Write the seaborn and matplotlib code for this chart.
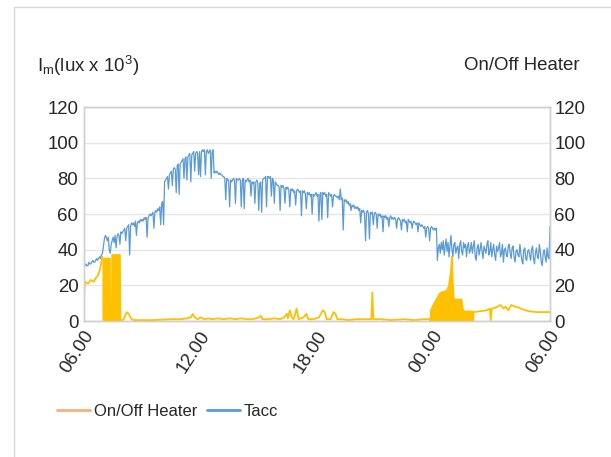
import numpy as np
import pandas as pd
import matplotlib
matplotlib.use("Agg")
import matplotlib.pyplot as plt
from matplotlib.lines import Line2D
from matplotlib.transforms import ScaledTranslation
import seaborn as sns

# ---- data -------------------------------------------------------------
# Tacc, hours after 06:00, sampled every 3 minutes (one row per hour)
tacc_hours = [i / 20 for i in range(481)]
tacc = [
    30, 31, 32, 31, 31, 33, 32, 32, 33, 34, 33, 33, 34, 35, 34, 35, 36, 35, 37, 38,
    42, 46, 48, 47, 45, 47, 40, 38, 43, 45, 47, 44, 48, 41, 47, 49, 48, 43, 50, 49,
    50, 51, 52, 45, 52, 53, 54, 37, 53, 55, 54, 55, 53, 56, 48, 55, 56, 55, 57, 56,
    57, 56, 58, 57, 58, 47, 58, 59, 60, 59, 60, 61, 52, 61, 62, 61, 63, 62, 64, 54,
    66, 67, 54, 78, 79, 80, 81, 74, 82, 83, 84, 76, 85, 86, 85, 72, 87, 88, 71, 88,
    89, 90, 91, 80, 91, 92, 79, 92, 93, 94, 78, 93, 94, 95, 84, 94, 95, 94, 82, 95,
    81, 95, 96, 95, 96, 82, 95, 96, 94, 95, 96, 80, 95, 96, 83, 84, 83, 84, 83, 82,
    83, 82, 82, 81, 81, 80, 68, 80, 79, 79, 64, 79, 78, 79, 80, 79, 66, 80, 79, 79,
    80, 79, 64, 79, 80, 63, 79, 78, 79, 80, 78, 79, 70, 78, 77, 78, 66, 78, 79, 78,
    62, 77, 78, 61, 79, 80, 80, 81, 64, 81, 81, 80, 81, 70, 80, 79, 66, 78, 77, 76,
    76, 75, 62, 76, 75, 76, 74, 66, 75, 74, 75, 73, 64, 74, 73, 74, 72, 73, 65, 73,
    74, 73, 72, 73, 59, 73, 72, 73, 71, 63, 72, 71, 72, 70, 71, 60, 71, 70, 71, 72,
    70, 71, 56, 71, 72, 57, 72, 71, 72, 70, 71, 58, 72, 71, 70, 71, 64, 70, 71, 70,
    70, 69, 70, 68, 74, 68, 69, 51, 68, 67, 68, 66, 67, 65, 66, 62, 65, 64, 65, 63,
    64, 63, 64, 62, 63, 55, 62, 61, 62, 60, 45, 61, 62, 60, 46, 61, 60, 61, 54, 60,
    61, 60, 52, 60, 59, 60, 58, 59, 50, 59, 58, 59, 57, 58, 53, 58, 59, 57, 58, 57,
    58, 57, 52, 57, 58, 57, 56, 51, 57, 56, 57, 55, 56, 50, 57, 56, 55, 56, 52, 55,
    56, 55, 54, 55, 50, 55, 54, 53, 54, 53, 52, 53, 47, 52, 53, 52, 45, 52, 53, 52,
    51, 52, 51, 52, 34, 41, 43, 38, 44, 40, 45, 37, 42, 46, 39, 44, 36, 42, 48, 40,
    36, 43, 44, 38, 41, 42, 35, 43, 45, 39, 37, 44, 41, 43, 36, 42, 44, 38, 40, 44,
    38, 42, 45, 36, 34, 41, 43, 37, 40, 44, 39, 35, 42, 40, 38, 43, 45, 37, 39, 44,
    36, 40, 43, 37, 34, 42, 39, 41, 44, 36, 38, 43, 33, 40, 41, 37, 36, 42, 43, 38,
    35, 41, 42, 36, 33, 39, 40, 37, 36, 43, 38, 34, 32, 40, 41, 35, 34, 39, 40, 37,
    34, 40, 42, 35, 32, 38, 41, 36, 35, 43, 39, 33, 31, 38, 40, 36, 33, 41, 36, 35,
    53,
]

heater_hours = [
    0.0, 0.05, 0.2, 0.35, 0.5, 0.6, 0.7, 0.8, 0.88, 0.93,
    0.95, 1.33, 1.35, 1.44, 1.45, 1.85, 1.87, 2.05, 2.2, 2.3,
    2.45, 2.6, 3.5, 4.5, 5.0, 5.3, 5.5, 5.6, 5.7, 5.85,
    6.0, 6.2, 6.4, 6.6, 6.9, 7.2, 7.5, 7.8, 8.1, 8.4,
    8.7, 9.0, 9.1, 9.2, 9.5, 9.8, 10.1, 10.3, 10.45, 10.5,
    10.6, 10.7, 10.8, 10.95, 11.05, 11.3, 11.45, 11.55, 11.8, 12.1,
    12.3, 12.4, 12.5, 12.7, 12.85, 12.95, 13.05, 13.3, 13.6, 14.0,
    14.8, 14.85, 14.9, 15.3, 15.8, 16.5, 17.0, 17.5, 17.8, 17.85,
    17.87, 18.0, 18.15, 18.3, 18.4, 18.7, 18.8, 18.9, 18.95, 19.0,
    19.05, 19.45, 19.5, 19.6, 19.8, 20.1, 20.4, 20.75, 20.9, 20.95,
    21.0, 21.2, 21.45, 21.6, 21.7, 21.85, 22.0, 22.2, 22.4, 22.6,
    22.9, 23.3, 23.7, 24.0,
]
heater = [
    15, 22, 21, 23, 22, 24, 25, 28, 32, 36,
    35, 35, 0, 0, 37, 37, 0, 1, 5, 4,
    1, 0.5, 0.5, 1, 1, 1.5, 2, 4, 2, 1,
    2, 1, 1.5, 1, 1.5, 1, 1.5, 1, 1.5, 1,
    1, 2, 3, 1, 1, 1.5, 1, 2, 4, 1.5,
    6, 2, 1, 7, 1, 2, 4, 1, 1, 2,
    6, 5, 1, 1, 5, 4, 1, 1, 0.5, 1,
    1, 16, 1, 1, 0.5, 1, 0.5, 1, 1, 0,
    6, 9, 12, 15, 16, 17, 20, 28, 36, 20,
    12, 12, 7, 5, 5.5, 5, 5.5, 6, 7, 0.5,
    7, 7.5, 9, 7, 8, 6, 9, 8, 7.5, 6.5,
    5.5, 5, 5, 5,
]
# periods where the heater cycles on/off rapidly (drawn as solid bands)
cycling_periods = [(0.94, 1.36), (1.44, 1.87), (17.85, 20.2)]

x_ticks = [0, 6, 12, 18, 24]
x_labels = ["06.00", "12.00", "18.00", "00.00", "06.00"]
y_ticks = [0, 20, 40, 60, 80, 100, 120]

# ---- style ------------------------------------------------------------
sns.set_style("white")
plt.rcParams["font.family"] = ["Liberation Sans", "DejaVu Sans"]
plt.rcParams["mathtext.fontset"] = "custom"
plt.rcParams["mathtext.rm"] = "Liberation Sans"
plt.rcParams["mathtext.it"] = "Liberation Sans:italic"

BLUE = "#5B9BD5"
GOLD = "#FFC000"
LEGEND_ORANGE = "#F4B183"
GRID = "#E6E6E6"
SPINE = "#D0D0D0"
TEXT = "#262626"
FS = 13.4

fig = plt.figure(figsize=(6.11, 4.57), dpi=100)
ax = fig.add_axes([84 / 611, 1 - 321 / 457, 466 / 611, 214 / 457])
ax2 = ax.twinx()

tacc_df = pd.DataFrame({"hour": tacc_hours, "Tacc": tacc})
heater_df = pd.DataFrame({"hour": heater_hours, "heater": heater})

sns.lineplot(data=tacc_df, x="hour", y="Tacc", ax=ax, color=BLUE,
             linewidth=0.9, estimator=None, sort=False)
sns.lineplot(data=heater_df, x="hour", y="heater", ax=ax2, color=GOLD,
             linewidth=1.3, estimator=None, sort=False)

h = np.array(heater_hours)
in_cycle = np.zeros(len(h), dtype=bool)
for a, b in cycling_periods:
    in_cycle |= (h >= a) & (h <= b)
ax2.fill_between(heater_hours, 0, heater, where=in_cycle, color=GOLD,
                 linewidth=0, interpolate=False)

for a in (ax, ax2):
    a.set_xlim(0, 24)
    a.set_ylim(0, 120)
    a.set_yticks(y_ticks)
    a.set_xlabel("")
    a.set_ylabel("")
    a.tick_params(length=0, labelsize=FS, colors=TEXT)
    for s in a.spines.values():
        s.set_color(SPINE)
        s.set_linewidth(1.0)

ax.grid(axis="y", color=GRID, linewidth=1.0)
ax.set_axisbelow(True)
ax.tick_params(axis="y", pad=4)
ax2.tick_params(axis="y", pad=3)

ax.set_xticks(x_ticks)
ax.set_xticklabels(x_labels, rotation=57, ha="right", va="center",
                   rotation_mode="anchor")
ax.tick_params(axis="x", pad=8)
shift = ScaledTranslation(6 / 100, 0, fig.dpi_scale_trans)
for lab in ax.get_xticklabels():
    lab.set_transform(lab.get_transform() + shift)

# axis titles
fig.text(37 / 611, 1 - 66 / 457, r"I$_{\mathrm{m}}$(lux x 10$^{3}$)",
         ha="left", va="center", fontsize=FS, color=TEXT)
fig.text(580 / 611, 1 - 65 / 457, "On/Off Heater",
         ha="right", va="center", fontsize=FS, color=TEXT)

# legend
handles = [Line2D([], [], color=LEGEND_ORANGE, lw=2),
           Line2D([], [], color=BLUE, lw=2)]
fig.legend(handles, ["On/Off Heater", "Tacc"], loc="center left",
           bbox_to_anchor=(42 / 611, 1 - 411 / 457), ncol=2, frameon=False,
           fontsize=12, handlelength=2.0, handletextpad=0.2,
           columnspacing=0.6, labelcolor=TEXT)

# outer frame
fig.add_artist(Line2D([14 / 611, 1], [1 - 7 / 457] * 2, color="#D9D9D9",
                      lw=1, transform=fig.transFigure))
fig.add_artist(Line2D([14 / 611] * 2, [0, 1 - 7 / 457], color="#D9D9D9",
                      lw=1, transform=fig.transFigure))

fig.savefig("out.png", dpi=100)
